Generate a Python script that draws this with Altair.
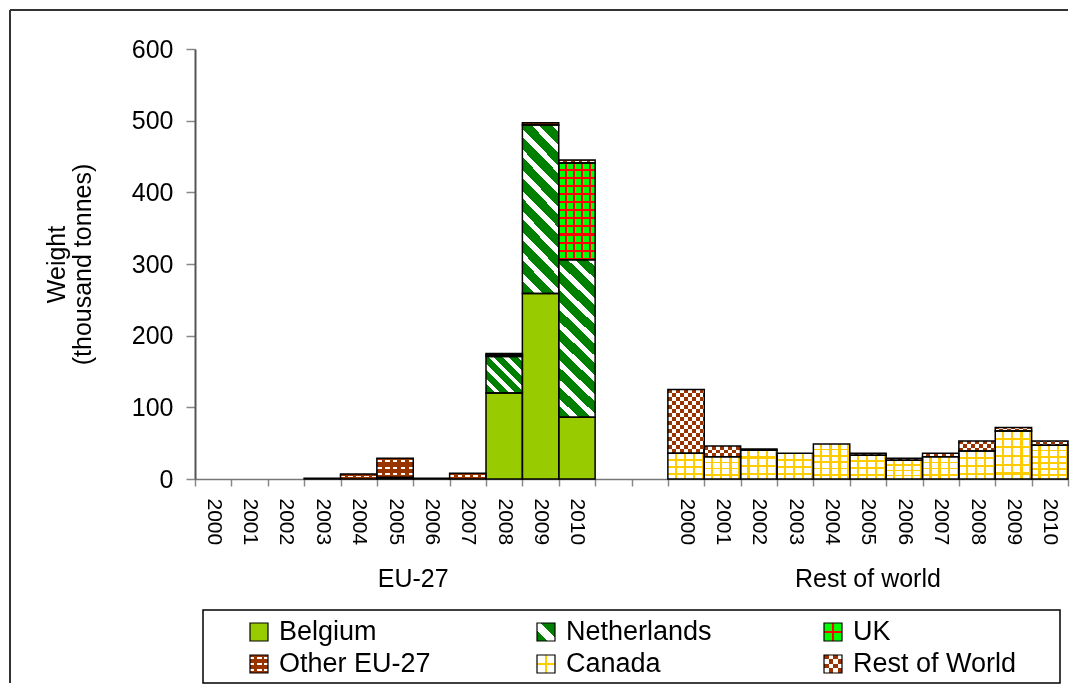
import altair as alt
import pandas as pd

# ---------------- data ----------------
YEARS = ["2000", "2001", "2002", "2003", "2004", "2005",
         "2006", "2007", "2008", "2009", "2010"]
SLOT_LABELS = YEARS + ["", ""] + YEARS

SERIES = ["Belgium", "Netherlands", "UK", "Other EU-27", "Canada", "Rest of World"]
SERIES_START_SLOT = [0, 0, 0, 0, 13, 13]

BELGIUM = [0, 0, 0, 0, 0, 0, 0, 0, 120, 259, 86]
NETHERLANDS = [0, 0, 0, 0, 0, 1, 0, 0, 51, 235, 220]
UK = [0, 0, 0, 0, 0, 1, 0, 0, 2, 0, 135]
OTHER_EU = [0, 0, 0, 1, 7, 27, 1, 8, 2, 3, 4]
CANADA = [36, 31, 40, 36, 49, 33, 26, 31, 39, 67, 47]
REST_OF_WORLD = [89, 15, 2, 0, 0, 3, 3, 5, 14, 5, 6]
VALUES = [BELGIUM, NETHERLANDS, UK, OTHER_EU, CANADA, REST_OF_WORLD]

GROUPS = ["EU-27", "Rest of world"]
GROUP_FIRST_SLOT = [0, 13]
GROUP_LAST_SLOT = [11, 23]

Y_TICKS = [0, 100, 200, 300, 400, 500, 600]

rows = []
for i, (name, start, vals) in enumerate(zip(SERIES, SERIES_START_SLOT, VALUES)):
    for j, v in enumerate(vals):
        rows.append({"series": name, "order": i, "slot": start + j, "value": v})
df = pd.DataFrame(rows)

groups_df = pd.DataFrame({
    "group": GROUPS,
    "center": [(a + b + 1) / 2 for a, b in zip(GROUP_FIRST_SLOT, GROUP_LAST_SLOT)],
})

legend_df = pd.DataFrame({
    "series": SERIES,
    "col": [i % 3 for i in range(len(SERIES))],
    "row": [i // 3 for i in range(len(SERIES))],
})

# ---------------- styles ----------------
FONT = "Liberation Sans"
LIME = "#99CC00"
NL_GREEN = "#008000"
WHITE = "#FFFFFF"
BLACK = "#000000"
UK_GREEN = "#00FF00"
RED = "#FF0000"
BROWN = "#993300"
YELLOW = "#FFCC00"
CLEAR = "rgba(0,0,0,0)"


def grad(segs, n, x1=0.0, y1=0.0, x2=0.0, y2=1.0):
    stops = []
    period = 1.0 / n
    k = 0
    while k * period < 1 - 1e-9:
        start = k * period
        cum = 0.0
        for color, frac in segs:
            a = start + cum * period
            b = start + (cum + frac) * period
            cum += frac
            if a >= 1:
                break
            stops.append(alt.GradientStop(offset=round(a, 5), color=color))
            stops.append(alt.GradientStop(offset=round(min(b, 1.0), 5), color=color))
        k += 1
    return alt.Gradient(gradient="linear", stops=stops, x1=x1, y1=y1, x2=x2, y2=y2)


def hgrad(segs, n):
    return grad(segs, n, 0, 0, 1, 0)


W, H = 873, 430
XS = alt.Scale(domain=[0, 24], nice=False, zero=False)
YS = alt.Scale(domain=[0, 600], nice=False, zero=False)

XA = alt.Axis(
    title=None,
    values=[i * 0.5 for i in range(49)],
    labelExpr="datum.value % 1 == 0.5 ? " + str(SLOT_LABELS).replace(" ", "") + "[floor(datum.value)] : ''",
    labelAngle=90,
    labelFontSize=21,
    labelColor="black",
    labelPadding=12,
    labelOverlap=False,
    labelFlush=False,
    labelBound=False,
    tickSize=7,
    tickColor="#888888",
    tickWidth=1.5,
    tickOpacity={"condition": {"test": "datum.value % 1 == 0", "value": 1}, "value": 0},
    domainColor="#777777",
    domainWidth=1.5,
    grid=False,
)
YA = alt.Axis(
    title=["Weight", "(thousand tonnes)"],
    titleFontSize=25,
    titleFontWeight="normal",
    titleColor="black",
    titlePadding=36,
    titleLineHeight=26,
    values=Y_TICKS,
    labelFontSize=25,
    labelColor="black",
    labelPadding=13,
    tickSize=9,
    tickColor="#888888",
    tickWidth=1.5,
    domainColor="#555555",
    domainWidth=2,
    grid=False,
)

base = (
    alt.Chart(df)
    .transform_filter(alt.datum.value > 0)
    .transform_stack(stack="value", as_=["y0", "y1"], groupby=["slot"],
                     sort=[alt.SortField("order", order="ascending")])
    .transform_calculate(slot2="datum.slot + 1")
)
ENC = dict(
    x=alt.X("slot:Q", scale=XS, axis=XA),
    x2="slot2:Q",
    y=alt.Y("y0:Q", scale=YS, axis=YA),
    y2="y1:Q",
)


def bar_layer(series, fill, cond=None, blend=None):
    flt = alt.datum.series == series
    if cond is not None:
        flt = flt & cond
    mk = dict(fill=fill, strokeWidth=0)
    if blend:
        mk["blend"] = blend
    return base.transform_filter(flt).mark_bar(**mk).encode(**ENC)


NL_SEGS = [(NL_GREEN, 0.62), (WHITE, 0.38)]
BRICK_ROWS = [(BROWN, 0.35), (WHITE, 0.3), (BROWN, 0.35)]
CHECK = [(BLACK, 0.5), (WHITE, 0.5)]
CAN_ROWS = [(WHITE, 0.75), (YELLOW, 0.25)]
CAN_COLS = [(CLEAR, 0.75), (YELLOW, 0.25)]

layers = [
    bar_layer("Belgium", LIME),
    bar_layer("Netherlands", grad(NL_SEGS, 10, 0, 1, 0.259, -0.165), alt.datum.value >= 100),
    bar_layer("Netherlands", grad(NL_SEGS, 5, 0, 1, 1, 0), alt.datum.value < 100),
    bar_layer("UK", grad([(UK_GREEN, 0.75), (RED, 0.25)], 12)),
    bar_layer("UK", hgrad([(CLEAR, 0.75), (RED, 0.25)], 4.5)),
    bar_layer("Other EU-27", grad(BRICK_ROWS, 3), alt.datum.value >= 15),
    bar_layer("Other EU-27", grad(BRICK_ROWS, 1), alt.datum.value < 15),
    bar_layer("Other EU-27", hgrad([(CLEAR, 0.6), (BROWN, 0.4)], 4.6)),
    bar_layer("Canada", grad(CAN_ROWS, 5.5), alt.datum.value >= 45),
    bar_layer("Canada", grad(CAN_ROWS, 3.5), alt.datum.value < 45),
    bar_layer("Canada", hgrad(CAN_COLS, 4)),
    bar_layer("Rest of World", grad(CHECK, 8), alt.datum.value >= 50),
    bar_layer("Rest of World", grad(CHECK, 1.5), alt.datum.value < 50),
    bar_layer("Rest of World", hgrad(CHECK, 4.6), blend="difference"),
    bar_layer("Rest of World", BROWN, blend="lighten"),
    base.mark_bar(fillOpacity=0, stroke="black", strokeWidth=1.5).encode(**ENC),
]

group_labels = alt.Chart(groups_df).mark_text(
    fontSize=25, baseline="alphabetic", align="center", color="black"
).encode(
    x=alt.X("center:Q", scale=XS, axis=XA),
    y=alt.value(538),
    text="group:N",
)

one = pd.DataFrame({"a": [0]})
frame_left = alt.Chart(one).mark_rule(color="#333333", strokeWidth=2).encode(
    x=alt.value(-185), y=alt.value(-39), y2=alt.value(634)
)
frame_top = alt.Chart(one).mark_rule(color="#333333", strokeWidth=2).encode(
    x=alt.value(-185), x2=alt.value(873), y=alt.value(-39)
)

main = alt.layer(*layers, group_labels, frame_left, frame_top).properties(width=W, height=H)

# ---------------- legend ----------------
LW, LH = 857, 73
LXS = alt.Scale(domain=[-0.1951, 2.7909], nice=False, zero=False)
LYS = alt.Scale(domain=[-0.6875, 1.5938], reverse=True, nice=False, zero=False)
LENC = dict(
    x=alt.X("col:Q", scale=LXS, axis=None),
    y=alt.Y("row:Q", scale=LYS, axis=None),
)
lbase = alt.Chart(legend_df)
SW = 18 * 18


def swatch(series, fill, blend=None):
    mk = dict(fill=fill, size=SW, strokeWidth=0, opacity=1, filled=True)
    if blend:
        mk["blend"] = blend
    return lbase.transform_filter(alt.datum.series == series).mark_square(**mk).encode(**LENC)


legend_layers = [
    swatch("Belgium", LIME),
    swatch("Netherlands", grad([(NL_GREEN, 0.3), (WHITE, 0.3), (NL_GREEN, 0.4)], 1, 0, 1, 1, 0)),
    swatch("UK", grad([(UK_GREEN, 0.42), (RED, 0.16), (UK_GREEN, 0.42)], 1)),
    swatch("UK", hgrad([(CLEAR, 0.42), (RED, 0.16), (CLEAR, 0.42)], 1)),
    swatch("Other EU-27", grad(BRICK_ROWS, 3)),
    swatch("Other EU-27", hgrad([(CLEAR, 0.6), (BROWN, 0.4)], 2.5)),
    swatch("Canada", grad([(WHITE, 0.42), (YELLOW, 0.16), (WHITE, 0.42)], 1)),
    swatch("Canada", hgrad([(CLEAR, 0.42), (YELLOW, 0.16), (CLEAR, 0.42)], 1)),
    swatch("Rest of World", grad(CHECK, 2)),
    swatch("Rest of World", hgrad(CHECK, 2), blend="difference"),
    swatch("Rest of World", BROWN, blend="lighten"),
    lbase.mark_square(size=SW, filled=False, stroke="black", strokeWidth=1.2, fillOpacity=0, opacity=1).encode(**LENC),
    lbase.mark_text(align="left", baseline="middle", dx=20, fontSize=27, color="black").encode(
        text="series:N", **LENC
    ),
]

legend = alt.layer(*legend_layers).properties(
    width=LW, height=LH,
    view=alt.ViewBackground(stroke="black", strokeWidth=1.5, strokeOpacity=1),
)

chart = (
    alt.vconcat(main, legend, spacing=131, bounds="flush", center=True)
    .properties(padding={"left": 1, "top": 1, "right": 0, "bottom": 0})
    .configure(font=FONT)
    .configure_view(strokeOpacity=0)
)

chart.save("out.html", embed_options={"renderer": "svg", "actions": False})
